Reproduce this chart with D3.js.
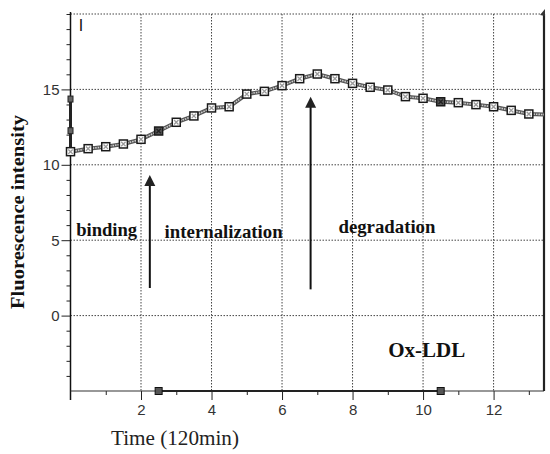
<!DOCTYPE html>
<html><head><meta charset="utf-8">
<script src="https://cdn.jsdelivr.net/npm/d3@7/dist/d3.min.js"></script>
<style>
html,body{margin:0;padding:0;background:#fff;}
svg{display:block;}
</style></head>
<body>
<svg id="chart" width="550" height="454"></svg>
<script>
// ---- data ----
const times = [0,0.5,1,1.5,2,2.5,3,3.5,4,4.5,5,5.5,6,6.5,7,7.5,8,8.5,9,9.5,10,10.5,11,11.5,12,12.5,13];
const intensity = [10.87,11.07,11.20,11.38,11.69,12.24,12.82,13.24,13.77,13.85,14.69,14.87,15.25,15.71,16.02,15.71,15.40,15.14,14.96,14.52,14.41,14.18,14.12,13.99,13.85,13.61,13.37];
const darkTimes = [2.5, 10.5];
const lineEnd = {t: 13.43, v: 13.33};
const axisMarkValues = [14.36, 12.26, 10.87];
const treatmentTimes = [2.5, 10.5];
const treatmentLevel = -5;
const xMajorTicks = [2,4,6,8,10,12];
const xMinorTicks = [1,3,5,7,9,11,13];
const yMajorTicks = [0,5,10,15];
const yMinorTicks = [-4,-3,-2,-1,1,2,3,4,6,7,8,9,11,12,13,14,16,17,18,19,20];
const arrows = [{t:2.25, from:1.83, to:9.32},{t:6.81, from:1.74, to:14.52}];
const phaseLabels = [
  {text:"binding", t:0.16, v:5.28, w:61},
  {text:"internalization", t:2.67, v:5.15, w:118},
  {text:"degradation", t:7.60, v:5.48, w:97}
];
const sampleLabel = {text:"Ox-LDL", t:9.01, v:-2.75, w:77};
const xTitle = "Time (120min)";
const yTitle = "Fluorescence intensity";
const panelTag = "I";

// ---- layout ----
const svg = d3.select("#chart");
const L = 70.5, R = 544, T = 14, B = 391;
const x = d3.scaleLinear().domain([0, 13.43]).range([L, R]);
const y = d3.scaleLinear().domain([-5, 20]).range([B, T]);
const serif = "'Liberation Serif','Times New Roman',serif";
const sans = "'Liberation Sans',Arial,sans-serif";

// grid
const grid = svg.append("g").attr("stroke","#444").attr("stroke-width",1).attr("stroke-dasharray","1.5,1.5");
grid.selectAll("line.gx").data(xMajorTicks).join("line")
  .attr("x1",d=>x(d)).attr("x2",d=>x(d)).attr("y1",T).attr("y2",B);
grid.selectAll("line.gy").data(yMajorTicks.concat([20])).join("line")
  .attr("x1",L).attr("x2",R).attr("y1",d=>y(d)).attr("y2",d=>y(d));

// axes with d3
const yAxisMajor = d3.axisLeft(y).tickValues(yMajorTicks).tickSize(9).tickPadding(2).tickFormat(d3.format("d"));
const gy = svg.append("g").attr("transform",`translate(${L},0)`).call(yAxisMajor);
gy.select(".domain").remove();
gy.selectAll("text").attr("font-family",sans).attr("font-size",15).attr("fill","#333");
gy.selectAll("line").attr("stroke","#222");
const gyMinor = svg.append("g").attr("transform",`translate(${L},0)`).call(d3.axisLeft(y).tickValues(yMinorTicks).tickSize(4).tickFormat(""));
gyMinor.select(".domain").remove();
gyMinor.selectAll("line").attr("stroke","#222");

const gx = svg.append("g").attr("transform",`translate(0,${B})`).call(d3.axisBottom(x).tickValues(xMajorTicks).tickSize(9).tickPadding(4).tickFormat(d3.format("d")));
gx.select(".domain").remove();
gx.selectAll("text").attr("font-family",sans).attr("font-size",15).attr("fill","#333");
gx.selectAll("line").attr("stroke","#222");
const gxMinor = svg.append("g").attr("transform",`translate(0,${B})`).call(d3.axisBottom(x).tickValues(xMinorTicks).tickSize(4).tickFormat(""));
gxMinor.select(".domain").remove();
gxMinor.selectAll("line").attr("stroke","#222");

// axis lines
svg.append("line").attr("x1",L).attr("x2",L).attr("y1",T-2).attr("y2",B+9).attr("stroke","#111").attr("stroke-width",1.5);
svg.append("line").attr("x1",L).attr("x2",R).attr("y1",B).attr("y2",B).attr("stroke","#333").attr("stroke-width",1.2);
svg.append("line").attr("x1",R).attr("x2",R).attr("y1",T).attr("y2",B).attr("stroke","#222").attr("stroke-width",2.2);
svg.append("path").attr("d",`M${R-4},${T+1}L${R+1},${T-5}L${R+1},${T+2}Z`).attr("fill","#333");

// y-axis marks at t=0
svg.append("line").attr("x1",x(0)).attr("x2",x(0)).attr("y1",y(d3.max(axisMarkValues))).attr("y2",y(d3.min(axisMarkValues)))
  .attr("stroke","#222").attr("stroke-width",3);
svg.selectAll("rect.am").data(axisMarkValues).join("rect")
  .attr("x",x(0)-2.5).attr("y",d=>y(d)-3).attr("width",5).attr("height",6)
  .attr("fill","#666").attr("stroke","#222").attr("stroke-width",1);

// treatment bar at bottom
svg.append("line").attr("x1",x(treatmentTimes[0])).attr("x2",x(treatmentTimes[1]))
  .attr("y1",y(treatmentLevel)).attr("y2",y(treatmentLevel)).attr("stroke","#222").attr("stroke-width",2.2);
svg.selectAll("rect.tr").data(treatmentTimes).join("rect")
  .attr("x",d=>x(d)-3.5).attr("y",y(treatmentLevel)-3.5).attr("width",7).attr("height",7)
  .attr("fill","#555").attr("stroke","#111").attr("stroke-width",1);

// main series
const pts = times.map((t,i)=>({t, v:intensity[i]}));
const linePts = pts.concat([lineEnd]);
const line = d3.line().x(d=>x(d.t)).y(d=>y(d.v));
svg.append("path").datum(linePts).attr("d",line).attr("fill","none").attr("stroke","#555").attr("stroke-width",4);
svg.append("path").datum(linePts).attr("d",line).attr("fill","none").attr("stroke","#cfcfcf").attr("stroke-width",1.6).attr("stroke-dasharray","1.5,1");

const s = 8;
const mk = svg.append("g").selectAll("g").data(pts).join("g")
  .attr("transform",d=>`translate(${x(d.t)},${y(d.v)})`);
mk.append("rect").attr("x",-s/2).attr("y",-s/2).attr("width",s).attr("height",s)
  .attr("fill",d=>darkTimes.includes(d.t)?"#555":"#fff").attr("stroke","#1a1a1a").attr("stroke-width",1.5);
mk.append("path").attr("d",`M${-2.2},${-2.2}L2.2,2.2M${-2.2},2.2L2.2,${-2.2}`)
  .attr("stroke",d=>darkTimes.includes(d.t)?"#222":"#999").attr("stroke-width",1.3);

// arrows
arrows.forEach(a=>{
  const xp = x(a.t), y0 = y(a.from), y1 = y(a.to);
  svg.append("line").attr("x1",xp).attr("x2",xp).attr("y1",y0).attr("y2",y1+9).attr("stroke","#111").attr("stroke-width",2);
  svg.append("path").attr("d",`M${xp},${y1}L${xp-5.5},${y1+11}L${xp+5.5},${y1+11}Z`).attr("fill","#222");
});

// labels
svg.selectAll("text.phase").data(phaseLabels).join("text")
  .attr("x",d=>x(d.t)).attr("y",d=>y(d.v)).text(d=>d.text)
  .attr("font-family",serif).attr("font-weight","bold").attr("font-size",18).attr("fill","#111")
  .attr("textLength",d=>d.w).attr("lengthAdjust","spacingAndGlyphs");
svg.append("text").attr("x",x(sampleLabel.t)).attr("y",y(sampleLabel.v)).text(sampleLabel.text)
  .attr("font-family",serif).attr("font-weight","bold").attr("font-size",20).attr("fill","#111")
  .attr("textLength",sampleLabel.w).attr("lengthAdjust","spacingAndGlyphs");

svg.append("text").attr("x",81).attr("y",31).text(panelTag)
  .attr("font-family",sans).attr("font-size",16).attr("fill","#111").attr("text-anchor","middle");

svg.append("text").attr("x",175).attr("y",445).text(xTitle).attr("text-anchor","middle")
  .attr("font-family",serif).attr("font-size",20).attr("fill","#222")
  .attr("textLength",128).attr("lengthAdjust","spacingAndGlyphs");
svg.append("text").attr("transform","translate(24,212) rotate(-90)").text(yTitle).attr("text-anchor","middle")
  .attr("font-family",serif).attr("font-weight","bold").attr("font-size",18).attr("fill","#111")
  .attr("textLength",194).attr("lengthAdjust","spacingAndGlyphs");
</script>
</body></html>
